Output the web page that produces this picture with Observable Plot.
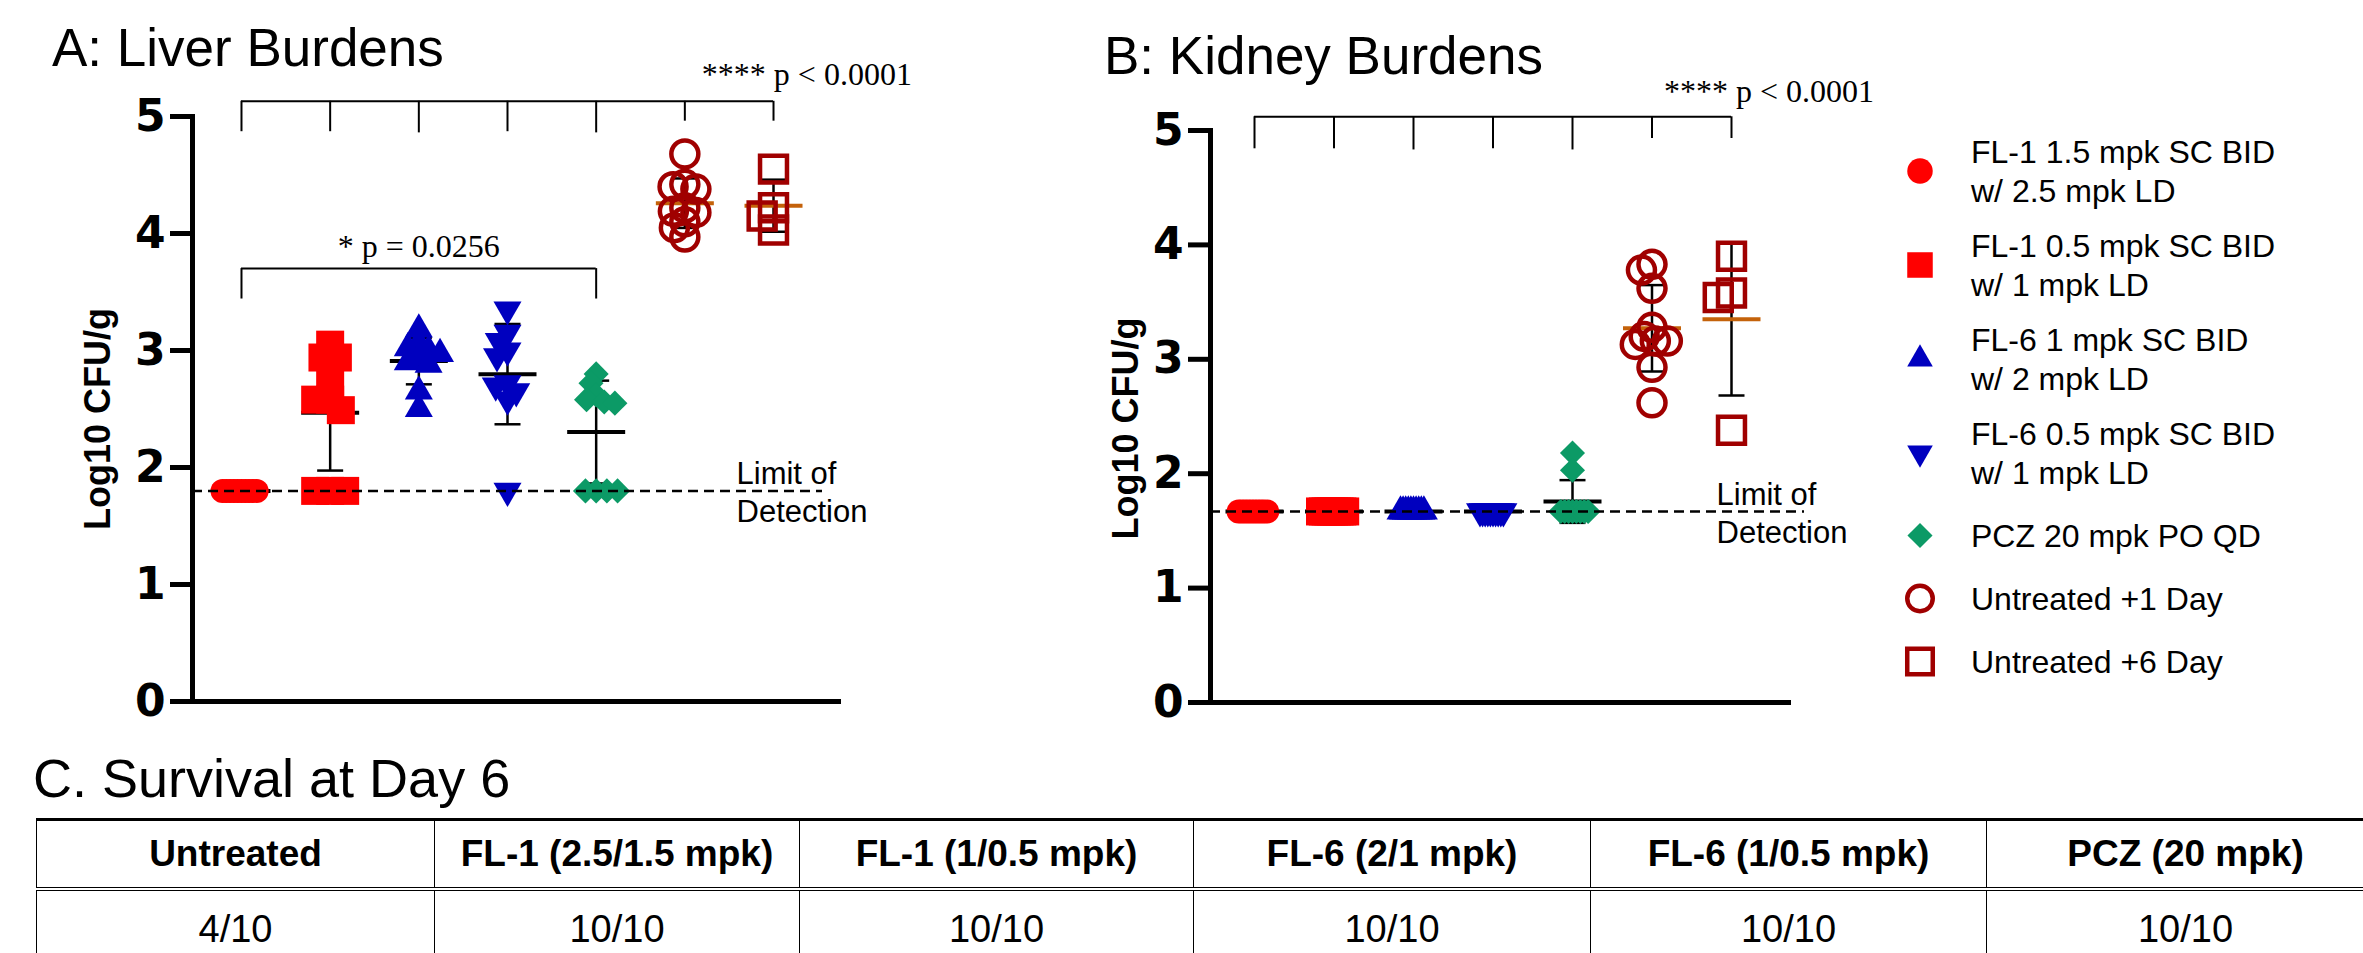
<!DOCTYPE html>
<html>
<head>
<meta charset="utf-8">
<script src="https://cdn.jsdelivr.net/npm/d3@7"></script>
<script src="https://cdn.jsdelivr.net/npm/@observablehq/plot@0.6"></script>
<style>
  html, body { margin: 0; padding: 0; background: #fff; }
  #page { position: relative; width: 2363px; height: 953px; overflow: hidden; background: #fff;
          font-family: "Liberation Sans", Arial, sans-serif; }
  .layer { position: absolute; }
  .layer svg { overflow: visible; }
  svg [aria-label^="y-axis"], svg [aria-label^="y-axis"] * { stroke-width: 5px !important; }
  svg [aria-label="frame"] { stroke-width: 5px !important; }
  #tablewrap { position: absolute; left: 36px; top: 818px; width: 2500px; }
  table.surv { border-collapse: collapse; table-layout: fixed;
               font-family: "Liberation Sans", Arial, sans-serif; color: #000; }
  table.surv th { font-weight: bold; font-size: 37px; height: 66px; text-align: center; vertical-align: middle;
                  border-left: 1.5px solid #000; border-right: 1.5px solid #000; border-top: 3px solid #000;
                  border-bottom: 4px double #000; padding: 0; white-space: nowrap; }
  table.surv td { font-weight: normal; font-size: 38px; height: 76px; text-align: center; vertical-align: middle;
                  border: 1.5px solid #000; padding: 0; }
</style>
</head>
<body>
<div id="page"></div>
<script>
// ---------------- DATA ----------------
const groups = [
  "FL-1 1.5 mpk SC BID\nw/ 2.5 mpk LD",
  "FL-1 0.5 mpk SC BID\nw/ 1 mpk LD",
  "FL-6 1 mpk SC BID\nw/ 2 mpk LD",
  "FL-6 0.5 mpk SC BID\nw/ 1 mpk LD",
  "PCZ 20 mpk PO QD",
  "Untreated +1 Day",
  "Untreated +6 Day"
];

const liverValues = [
  [1.8, 1.8, 1.8, 1.8, 1.8, 1.8, 1.8, 1.8, 1.8, 1.8],
  [3.05, 2.94, 2.94, 2.71, 2.58, 2.58, 2.49, 1.8, 1.8, 1.8],
  [3.18, 3.06, 3.02, 3.0, 2.97, 2.94, 2.9, 2.88, 2.65, 2.5],
  [3.35, 3.15, 3.08, 3.0, 2.95, 2.72, 2.7, 2.65, 2.58, 1.8],
  [2.8, 2.72, 2.62, 2.58, 2.56, 2.55, 1.8, 1.8, 1.8, 1.8],
  [4.68, 4.42, 4.40, 4.38, 4.22, 4.19, 4.18, 4.10, 4.05, 3.97],
  [4.55, 4.22, 4.15, 4.03]
];

const kidneyValues = [
  [1.67, 1.67, 1.67, 1.67, 1.67, 1.67, 1.67, 1.67, 1.67, 1.67],
  [1.67, 1.67, 1.67, 1.67, 1.67, 1.67, 1.67, 1.67, 1.67, 1.67],
  [1.67, 1.67, 1.67, 1.67, 1.67, 1.67, 1.67, 1.67, 1.67, 1.67],
  [1.67, 1.67, 1.67, 1.67, 1.67, 1.67, 1.67, 1.67, 1.67, 1.67],
  [2.18, 2.03, 1.67, 1.67, 1.67, 1.67, 1.67, 1.67, 1.67, 1.67],
  [3.83, 3.78, 3.62, 3.28, 3.20, 3.16, 3.16, 3.13, 2.93, 2.62],
  [3.90, 3.58, 3.54, 2.38]
];

const liverLOD = 1.8;
const kidneyLOD = 1.67;
const yTicks = [0, 1, 2, 3, 4, 5];

// significance brackets (value units on the y axis, group indexes on x)
const liverBracketLines = [{from: 0, to: 6, y: 5.13}, {from: 0, to: 4, y: 3.70}];
const liverBracketTicks = [
  {g: 0, top: 5.13, bottom: 4.87}, {g: 1, top: 5.13, bottom: 4.87}, {g: 2, top: 5.13, bottom: 4.86},
  {g: 3, top: 5.13, bottom: 4.87}, {g: 4, top: 5.13, bottom: 4.86}, {g: 5, top: 5.13, bottom: 4.96},
  {g: 6, top: 5.13, bottom: 4.96},
  {g: 0, top: 3.70, bottom: 3.44}, {g: 4, top: 3.70, bottom: 3.44}
];
const liverNotes = [
  {g: 5, y: 5.27, text: "**** p < 0.0001"},
  {g: 2, y: 3.80, text: "* p = 0.0256"}
];
const kidneyBracketLines = [{from: 0, to: 6, y: 5.12}];
const kidneyBracketTicks = [
  {g: 0, top: 5.12, bottom: 4.84}, {g: 1, top: 5.12, bottom: 4.84}, {g: 2, top: 5.12, bottom: 4.83},
  {g: 3, top: 5.12, bottom: 4.84}, {g: 4, top: 5.12, bottom: 4.83}, {g: 5, top: 5.12, bottom: 4.93},
  {g: 6, top: 5.12, bottom: 4.93}
];
const kidneyNotes = [{g: 5, y: 5.25, text: "**** p < 0.0001"}];

const survivalGroups = ["Untreated", "FL-1 (2.5/1.5 mpk)", "FL-1 (1/0.5 mpk)", "FL-6 (2/1 mpk)", "FL-6 (1/0.5 mpk)", "PCZ (20 mpk)"];
const survival = ["4/10", "10/10", "10/10", "10/10", "10/10", "10/10"];

// ---------------- STYLES ----------------
const RED = "#FF0000", BLUE = "#0000BF", GREEN = "#0C9A66", DARKRED = "#A00000", ORANGE = "#C4620A";
const SANS = "'Liberation Sans', Arial, sans-serif";
const symTriDown = {
  draw(ctx, size) {
    const k = Math.sqrt(size / (3 * Math.sqrt(3)));
    ctx.moveTo(0, 2 * k); ctx.lineTo(-Math.sqrt(3) * k, -k); ctx.lineTo(Math.sqrt(3) * k, -k); ctx.closePath();
  }
};
const symHLine = {
  draw(ctx, size) { const r = Math.sqrt(size / Math.PI); ctx.moveTo(-r, 0); ctx.lineTo(r, 0); }
};
// a marker whose drawn size is fixed (radius-equivalent rr), independent of the dodge radius
const fixedSymbol = (base, rr) => ({ draw(ctx) { base.draw(ctx, Math.PI * rr * rr); } });

const groupStyle = [
  {color: RED, symbol: d3.symbolCircle, filled: true, r: 12, lr: 12.75},
  {color: RED, symbol: d3.symbolSquare, filled: true, r: 15.8, lr: 14.4},
  {color: BLUE, symbol: d3.symbolTriangle, filled: true, r: 10.4, lr: 9.5},
  {color: BLUE, symbol: symTriDown, filled: true, r: 10.4, lr: 9.5},
  {color: GREEN, symbol: d3.symbolDiamond2, filled: true, r: 11.3, lr: 11.3},
  {color: DARKRED, symbol: d3.symbolCircle, filled: false, r: 13.5, lr: 12.75},
  {color: DARKRED, symbol: d3.symbolSquare, filled: false, r: 15.2, lr: 14.4}
];
const meanColors = ["#000", "#000", "#000", "#000", "#000", ORANGE, ORANGE];

const page = d3.select("#page");
const baseStyle = {
  overflow: "visible", background: "transparent", color: "#000",
  fontFamily: "'DejaVu Sans', sans-serif", fontSize: "44px", fontWeight: "bold"
};

function panel(cfg) {
  const idx = d3.range(groups.length);
  const points = cfg.values.flatMap((vals, g) => vals.map(v => ({g, value: v})));
  const stats = idx.map(g => {
    const v = cfg.values[g];
    const mean = d3.mean(v), sd = d3.deviation(v) || 0;
    return {g, mean, sd, lo: mean - sd, hi: mean + sd};
  });
  const withSD = stats.filter(d => d.sd > 0.001);
  const caps = withSD.flatMap(d => [{g: d.g, y: d.lo}, {g: d.g, y: d.hi}]);
  const dims = {
    width: cfg.width, height: cfg.height,
    marginLeft: cfg.mL, marginRight: cfg.mR, marginTop: cfg.mT, marginBottom: cfg.mB
  };

  // points, means and error bars (faceted per group so the dodge spreads each column)
  const pts = Plot.plot({
    ...dims,
    fx: {domain: idx, paddingInner: cfg.pad, paddingOuter: cfg.pad, align: 0.5, round: false, axis: null, label: null},
    y: {domain: [0, 5], axis: null},
    style: baseStyle,
    marks: [
      Plot.ruleX(withSD, {fx: "g", x: null, y1: "lo", y2: "hi", stroke: "#000", strokeWidth: 2.5}),
      Plot.dot(caps, {fx: "g", y: "y", symbol: symHLine, r: 13, fill: "none", stroke: "#000", strokeWidth: 2.5}),
      ...idx.map(g => Plot.dot([stats[g]], {fx: "g", y: "mean", symbol: symHLine, r: 29, fill: "none",
                                           stroke: meanColors[g], strokeWidth: 4})),
      ...idx.map(g => {
        const st = groupStyle[g];
        return Plot.dot(points.filter(d => d.g === g),
          Plot.dodgeX({anchor: "middle", padding: 0, r: cfg.spread[g] / 2}, {
            fx: "g", y: "value", r: cfg.spread[g] / 2, symbol: fixedSymbol(st.symbol, st.r),
            fill: st.filled ? st.color : "none",
            stroke: st.filled ? "none" : st.color,
            strokeWidth: st.filled ? 0 : 4.5
          }));
      })
    ]
  });

  // axes, limit of detection, brackets and notes
  const over = Plot.plot({
    ...dims,
    x: {type: "point", domain: idx, padding: (1 + cfg.pad) / 2, align: 0.5, round: false, axis: null},
    y: {domain: [0, 5], ticks: yTicks, tickFormat: d3.format("d"), tickSize: 22, tickPadding: 5, line: true, label: null},
    style: baseStyle,
    marks: [
      Plot.ruleY([0], {stroke: "#000", strokeWidth: 5, insetRight: cfg.baseInset}),
      Plot.ruleY([cfg.lod], {stroke: "#000", strokeWidth: 2.5, strokeDasharray: "10,6", insetRight: cfg.lodInset}),
      Plot.ruleY(cfg.lines, {x1: "from", x2: "to", y: "y", stroke: "#000", strokeWidth: 2}),
      Plot.ruleX(cfg.ticks, {x: "g", y1: "top", y2: "bottom", stroke: "#000", strokeWidth: 2}),
      ...cfg.notes.map((n, i) => Plot.text([n], {
        x: "g", y: "y", text: "text", textAnchor: cfg.noteStyle[i].anchor, dx: cfg.noteStyle[i].dx,
        lineAnchor: "bottom", fontFamily: "'Liberation Serif', 'Times New Roman', serif",
        fontSize: 32, fontWeight: "normal"
      })),
      Plot.text([{g: groups.length - 1, y: cfg.lod, text: "Limit of\nDetection"}], {
        x: "g", y: "y", text: "text", textAnchor: "start", dx: cfg.lodDx, lineAnchor: "middle",
        lineHeight: 1.23, fontSize: 31, fontWeight: "normal", fontFamily: SANS
      }),
      Plot.text(["Log10 CFU/g"], {
        frameAnchor: "left", textAnchor: "middle", lineAnchor: "middle", rotate: -90,
        dx: cfg.labelDx, dy: cfg.labelDy, fontSize: 36, fontWeight: "bold", fontFamily: SANS
      })
    ]
  });

  for (const el of [pts, over]) {
    page.append("div").attr("class", "layer")
      .style("left", cfg.left + "px").style("top", cfg.top + "px")
      .node().appendChild(el);
  }
}

panel({
  values: liverValues, lod: liverLOD, spread: [3.8, 15, 12, 12, 10.7, 12, 14],
  lines: liverBracketLines, ticks: liverBracketTicks, notes: liverNotes,
  noteStyle: [{anchor: "start", dx: 17}, {anchor: "middle", dx: 0}],
  left: 0, top: 0, width: 960, height: 740, mL: 192, mR: 138, mT: 116, mB: 39, pad: 0.105,
  baseInset: -19, lodInset: 0, lodDx: -37, labelDx: -94, labelDy: 10
});

panel({
  values: kidneyValues, lod: kidneyLOD, spread: [3.2, 2.8, 2.6, 2.6, 3.9, 12, 14],
  lines: kidneyBracketLines, ticks: kidneyBracketTicks, notes: kidneyNotes,
  noteStyle: [{anchor: "start", dx: 12}],
  left: 1000, top: 0, width: 880, height: 740, mL: 210, mR: 105, mT: 130, mB: 38, pad: 0.107,
  baseInset: -16, lodInset: -29, lodDx: -15, labelDx: -84, labelDy: 12
});

// ---------------- TITLES & LEGEND ----------------
const ann = page.append("svg").attr("class", "layer")
  .style("left", "0px").style("top", "0px").style("overflow", "visible")
  .attr("width", 2363).attr("height", 953)
  .attr("font-family", SANS);

ann.append("text").attr("x", 52).attr("y", 66).attr("font-size", 53).text("A: Liver Burdens");
ann.append("text").attr("x", 1104).attr("y", 74).attr("font-size", 53).text("B: Kidney Burdens");
ann.append("text").attr("x", 33).attr("y", 797).attr("font-size", 54).text("C. Survival at Day 6");

{
  const lineH = 39, markerX = 1920, textX = 1971;
  let y = 132;
  groups.forEach((label, i) => {
    const lines = label.split("\n");
    const h = lines.length * lineH;
    const yc = y + h / 2;
    const st = groupStyle[i];
    ann.append("path")
      .attr("transform", `translate(${markerX},${yc})`)
      .attr("d", d3.symbol(st.symbol, Math.PI * st.lr * st.lr)())
      .attr("fill", st.filled ? st.color : "none")
      .attr("stroke", st.filled ? "none" : st.color)
      .attr("stroke-width", st.filled ? 0 : 4.5);
    lines.forEach((ln, j) => {
      ann.append("text")
        .attr("x", textX)
        .attr("y", yc - h / 2 + lineH * (j + 0.5) + 11.5)
        .attr("font-size", 32)
        .text(ln);
    });
    const next = groups[i + 1];
    const gap = (next && lines.length === 2 && next.includes("\n")) ? 16 : 24;
    y += h + gap;
  });
}

// ---------------- SURVIVAL TABLE ----------------
{
  const colWidths = [398, 365, 394, 397, 396, 398];
  const wrap = page.append("div").attr("id", "tablewrap");
  const table = wrap.append("table").attr("class", "surv")
    .style("width", d3.sum(colWidths) + "px").style("min-width", d3.sum(colWidths) + "px");
  const cg = table.append("colgroup");
  colWidths.forEach(w => cg.append("col").style("width", w + "px"));
  table.append("tr").selectAll("th").data(survivalGroups).join("th").text(d => d);
  table.append("tr").selectAll("td").data(survival).join("td").text(d => d);
}
</script>
</body>
</html>
